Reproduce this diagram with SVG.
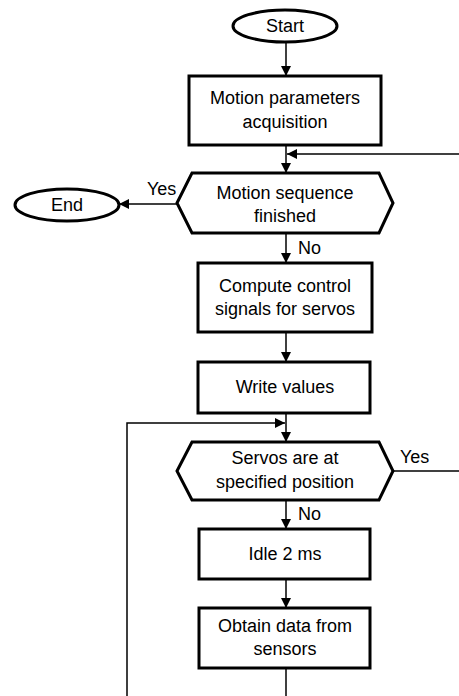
<svg xmlns="http://www.w3.org/2000/svg" width="459" height="696" viewBox="0 0 459 696">
<style>
.shape{fill:#fff;stroke:#000;stroke-width:3}
.conn{fill:none;stroke:#000;stroke-width:1.5}
text{font-family:"Liberation Sans",Arial,sans-serif;font-size:18px;fill:#000}
.c{text-anchor:middle}
</style>
<defs>
<marker id="arr" markerWidth="10" markerHeight="10" viewBox="0 0 10 10" refX="10" refY="5" orient="auto" markerUnits="userSpaceOnUse">
<path d="M0,0 L10,5 L0,10 Z" fill="#000"/>
</marker>
</defs>
<rect width="459" height="696" fill="#fff"/>
<g id="connectors">
<line class="conn" x1="286" y1="42" x2="286" y2="76" marker-end="url(#arr)"/>
<line class="conn" x1="286" y1="145" x2="286" y2="173" marker-end="url(#arr)"/>
<line class="conn" x1="459" y1="154" x2="287" y2="154" marker-end="url(#arr)"/>
<line class="conn" x1="177" y1="204" x2="119" y2="204" marker-end="url(#arr)"/>
<line class="conn" x1="286" y1="233" x2="286" y2="263" marker-end="url(#arr)"/>
<line class="conn" x1="286" y1="332" x2="286" y2="362" marker-end="url(#arr)"/>
<line class="conn" x1="286" y1="413" x2="286" y2="442" marker-end="url(#arr)"/>
<polyline class="conn" points="127,696 127,423 285,423" marker-end="url(#arr)"/>
<line class="conn" x1="393" y1="471" x2="459" y2="471"/>
<line class="conn" x1="286" y1="500" x2="286" y2="529" marker-end="url(#arr)"/>
<line class="conn" x1="286" y1="579" x2="286" y2="608" marker-end="url(#arr)"/>
<line class="conn" x1="286" y1="668" x2="286" y2="696"/>
<text x="147" y="195">Yes</text>
<text x="298" y="254">No</text>
<text x="400" y="463">Yes</text>
<text x="298" y="520">No</text>
</g>
<g id="start">
<ellipse class="shape" cx="285" cy="26" rx="52" ry="16"/>
<text class="c" x="285" y="32">Start</text>
</g>
<g id="acquisition">
<rect class="shape" x="189" y="76" width="192" height="69"/>
<text class="c" x="285" y="104">Motion parameters</text>
<text class="c" x="285" y="128">acquisition</text>
</g>
<g id="sequence-finished">
<polygon class="shape" points="177,203 192,173 379,173 393,203 379,233 192,233"/>
<text class="c" x="285" y="199">Motion sequence</text>
<text class="c" x="285" y="222">finished</text>
</g>
<g id="end">
<ellipse class="shape" cx="67" cy="205" rx="52" ry="16"/>
<text class="c" x="67" y="211">End</text>
</g>
<g id="compute">
<rect class="shape" x="198" y="263" width="174" height="69"/>
<text class="c" x="285" y="292">Compute control</text>
<text class="c" x="285" y="315">signals for servos</text>
</g>
<g id="write">
<rect class="shape" x="198" y="362" width="172" height="51"/>
<text class="c" x="285" y="393">Write values</text>
</g>
<g id="servos-position">
<polygon class="shape" points="177,471 192,442 379,442 393,471 379,500 192,500"/>
<text class="c" x="285" y="464">Servos are at</text>
<text class="c" x="285" y="488">specified position</text>
</g>
<g id="idle">
<rect class="shape" x="199" y="529" width="171" height="50"/>
<text class="c" x="285" y="560">Idle 2 ms</text>
</g>
<g id="sensors">
<rect class="shape" x="199" y="608" width="171" height="60"/>
<text class="c" x="285" y="632">Obtain data from</text>
<text class="c" x="285" y="655">sensors</text>
</g>
</svg>
